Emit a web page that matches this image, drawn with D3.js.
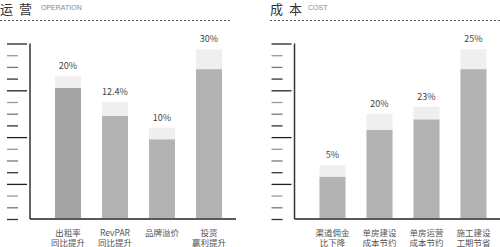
<!DOCTYPE html>
<html>
<head>
<meta charset="utf-8">
<script src="https://cdn.jsdelivr.net/npm/d3@7"></script>
<style>
  body { margin: 0; background: #fff; }
  svg { display: block; font-family: "Noto Sans CJK SC", "Noto Sans", sans-serif; }
</style>
</head>
<body>
<svg id="chart" width="500" height="247"></svg>
<script>
// operation panel
const opCategories = [["出租率", "同比提升"], ["RevPAR", "同比提升"], ["品牌溢价"], ["投资", "赢利提升"]]
const opLabels = ["20%", "12.4%", "10%", "30%"]
const opBase = [11.2, 8.8, 6.8, 12.8]   // dark part, in axis units
const opTop = [12.2, 10.0, 7.8, 14.5]   // light cap top

// cost panel
const costCategories = [["渠道佣金", "比下降"], ["单房建设", "成本节约"], ["单房运营", "成本节约"], ["施工建设", "工期节省"]]
const costLabels = ["5%", "20%", "23%", "25%"]
const costBase = [3.6, 7.6, 8.5, 12.8]
const costTop = [4.6, 9.0, 9.6, 14.5]

const tickValues = d3.range(0, 16)
const majorTicks = [15, 11, 7, 3]

const svg = d3.select("#chart")

function drawPanel(opt) {
    let g = svg.append("g")

    // title
    g.append("text")
        .attr("x", opt.titleX).attr("y", 13.5)
        .attr("font-size", 13).attr("letter-spacing", 6)
        .attr("fill", "#333")
        .text(opt.title)
    g.append("text")
        .attr("x", opt.subX).attr("y", 10)
        .attr("font-size", 7).attr("fill", "#888")
        .attr("font-family", "Liberation Sans, Arial, sans-serif")
        .text(opt.sub)
    g.append("line")
        .attr("x1", opt.titleX).attr("x2", opt.dashEnd)
        .attr("y1", 20.5).attr("y2", 20.5)
        .attr("stroke", "#555").attr("stroke-dasharray", "2,2")

    let y = d3.scaleLinear().domain([0, 15]).range([219, 43.5])
    let x = d3.scaleBand()
        .domain(d3.range(opt.categories.length))
        .range([opt.axisX + 25, opt.axisX + 25 + 167])
        .paddingInner(0.447).paddingOuter(0)

    // ticks, long ones every 4 from the top
    g.selectAll(".tick")
        .data(tickValues)
        .join("line")
        .attr("x1", opt.axisX - 23)
        .attr("x2", d => majorTicks.includes(d) ? opt.axisX - 3 : opt.axisX - 12)
        .attr("y1", d => y(d) + 0.5).attr("y2", d => y(d) + 0.5)
        .attr("stroke", d => majorTicks.includes(d) ? "#222" : ["#333", "#777", "#999", "#555"][d % 4])
        .attr("stroke-width", 1.3)

    // axes
    g.append("line")
        .attr("x1", opt.axisX).attr("x2", opt.axisX)
        .attr("y1", y(15)).attr("y2", y(0))
        .attr("stroke", "#333").attr("stroke-width", 1.5)
    g.append("line")
        .attr("x1", opt.axisX).attr("x2", opt.baseEnd)
        .attr("y1", y(0)).attr("y2", y(0))
        .attr("stroke", "#222").attr("stroke-width", 1.5)

    // light caps
    g.selectAll(".cap")
        .data(opt.top)
        .join("rect")
        .attr("x", (d, i) => x(i)).attr("width", x.bandwidth())
        .attr("y", d => y(d)).attr("height", d => y(0) - y(d) - 1)
        .attr("fill", "#efefef")
    // dark bars
    g.selectAll(".bar")
        .data(opt.base)
        .join("rect")
        .attr("x", (d, i) => x(i)).attr("width", x.bandwidth())
        .attr("y", d => y(d)).attr("height", d => y(0) - y(d) - 1)
        .attr("fill", (d, i) => opt.colors[i])

    // value labels
    g.selectAll(".val")
        .data(opt.labels)
        .join("text")
        .attr("x", (d, i) => x(i) + x.bandwidth() / 2)
        .attr("y", (d, i) => y(opt.top[i]) - 7)
        .attr("text-anchor", "middle")
        .attr("font-size", 9).attr("fill", "#444")
        .text(d => d)

    // category labels, one text with a tspan per line
    opt.categories.forEach((lines, i) => {
        let cx = x(i) + x.bandwidth() / 2
        let t = g.append("text")
            .attr("text-anchor", "middle")
            .attr("font-size", 8.5).attr("fill", "#555")
        lines.forEach((s, j) => {
            t.append("tspan")
                .attr("x", cx)
                .attr("y", 236 + j * 10)
                .text(s)
        })
    })
}

drawPanel({
    title: "运营", sub: "OPERATION", titleX: 0, subX: 41, dashEnd: 231,
    axisX: 30, baseEnd: 236,
    categories: opCategories, labels: opLabels, base: opBase, top: opTop,
    colors: ["#a3a3a3", "#b3b3b3", "#b3b3b3", "#b3b3b3"]
})
drawPanel({
    title: "成本", sub: "COST", titleX: 270, subX: 308, dashEnd: 500,
    axisX: 294.5, baseEnd: 500,
    categories: costCategories, labels: costLabels, base: costBase, top: costTop,
    colors: ["#b3b3b3", "#b3b3b3", "#b3b3b3", "#b3b3b3"]
})
</script>
</body>
</html>
